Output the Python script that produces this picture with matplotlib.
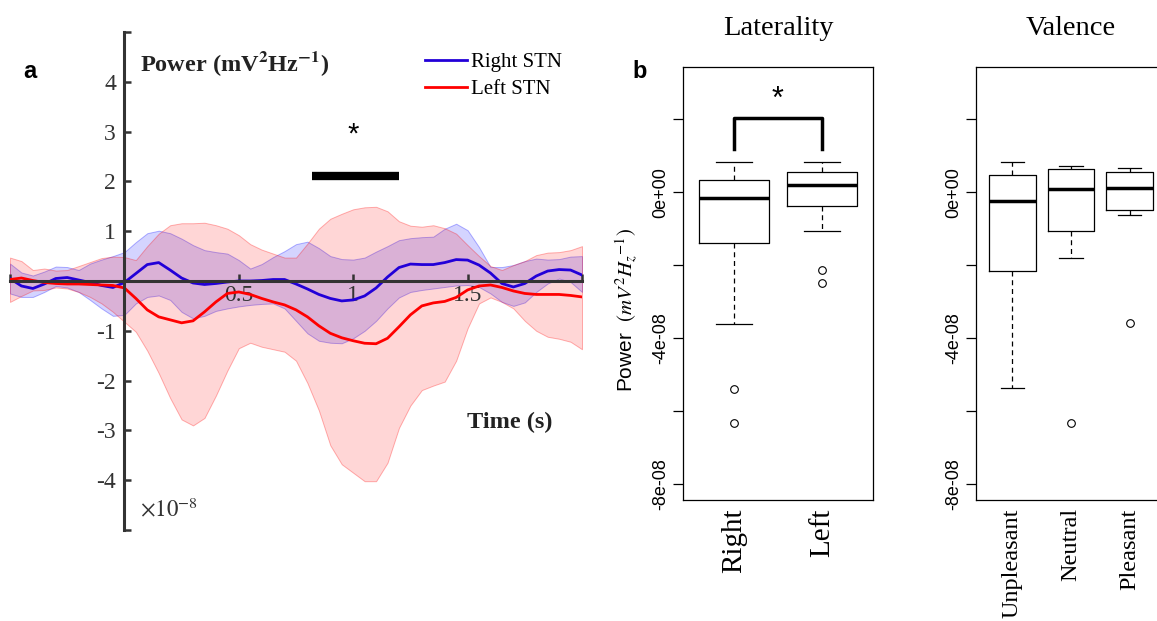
import numpy as np
import matplotlib.pyplot as plt

plt.rcParams['mathtext.fontset'] = 'stix'
SERIF = ['Liberation Serif', 'DejaVu Serif']
SANS = ['Liberation Sans', 'DejaVu Sans']

# ---- panel a: power time course (x 1e-8) ----
t = [-0.50, -0.45, -0.40, -0.35, -0.30, -0.25, -0.20, -0.15, -0.10, -0.05,
     0.00, 0.05, 0.10, 0.15, 0.20, 0.25, 0.30, 0.35, 0.40, 0.45,
     0.50, 0.55, 0.60, 0.65, 0.70, 0.75, 0.80, 0.85, 0.90, 0.95,
     1.00, 1.05, 1.10, 1.15, 1.20, 1.25, 1.30, 1.35, 1.40, 1.45,
     1.50, 1.55, 1.60, 1.65, 1.70, 1.75, 1.80, 1.85, 1.90, 1.95, 2.00]

right_mean = [0.05, -0.10, -0.15, -0.06, 0.05, 0.07, 0.02, -0.03, -0.09, -0.13,
              -0.03, 0.15, 0.33, 0.37, 0.22, 0.06, -0.04, -0.07, -0.05, -0.02,
              0.00, 0.00, 0.01, 0.03, 0.03, -0.06, -0.16, -0.27, -0.35, -0.40,
              -0.38, -0.30, -0.14, 0.08, 0.27, 0.34, 0.33, 0.33, 0.37, 0.43,
              0.42, 0.32, 0.16, -0.05, -0.12, -0.05, 0.10, 0.20, 0.23, 0.22, 0.12]
right_hi = [0.35, 0.17, 0.11, 0.19, 0.29, 0.28, 0.22, 0.35, 0.43, 0.50,
            0.58, 0.78, 0.96, 1.01, 0.96, 0.85, 0.72, 0.62, 0.58, 0.55,
            0.42, 0.25, 0.34, 0.48, 0.60, 0.74, 0.79, 0.66, 0.50, 0.44,
            0.43, 0.47, 0.59, 0.70, 0.82, 0.86, 0.88, 0.89, 1.05, 1.15,
            1.02, 0.68, 0.28, 0.28, 0.32, 0.40, 0.45, 0.43, 0.44, 0.49, 0.50]
right_lo = [-0.25, -0.32, -0.32, -0.22, -0.10, -0.13, -0.22, -0.38, -0.55, -0.70,
            -0.68, -0.45, -0.32, -0.29, -0.38, -0.62, -0.75, -0.70, -0.60, -0.55,
            -0.51, -0.48, -0.46, -0.45, -0.55, -0.80, -1.05, -1.20, -1.24, -1.25,
            -1.15, -1.00, -0.80, -0.55, -0.33, -0.22, -0.18, -0.15, -0.12, -0.09,
            -0.08, -0.12, -0.25, -0.42, -0.50, -0.43, -0.22, -0.05, 0.05, -0.02, -0.22]

left_mean = [0.03, 0.06, 0.01, -0.03, -0.05, -0.06, -0.06, -0.07, -0.08, -0.09,
             -0.14, -0.35, -0.58, -0.72, -0.78, -0.84, -0.80, -0.62, -0.42, -0.25,
             -0.22, -0.27, -0.35, -0.42, -0.48, -0.58, -0.72, -0.90, -1.05, -1.14,
             -1.20, -1.25, -1.26, -1.15, -0.92, -0.68, -0.50, -0.44, -0.41, -0.33,
             -0.18, -0.10, -0.08, -0.13, -0.20, -0.25, -0.27, -0.27, -0.27, -0.29, -0.32]
left_hi = [0.47, 0.40, 0.22, 0.25, 0.21, 0.22, 0.30, 0.38, 0.46, 0.49,
           0.48, 0.42, 0.70, 0.95, 1.12, 1.16, 1.16, 1.17, 1.12, 1.05,
           0.92, 0.74, 0.63, 0.55, 0.47, 0.47, 0.75, 1.05, 1.25, 1.35,
           1.44, 1.48, 1.49, 1.40, 1.20, 1.11, 1.09, 1.12, 1.06, 0.95,
           0.72, 0.50, 0.30, 0.22, 0.32, 0.40, 0.52, 0.57, 0.58, 0.62, 0.70]
left_lo = [-0.42, -0.30, -0.19, -0.18, -0.13, -0.15, -0.22, -0.32, -0.45, -0.62,
           -0.82, -1.02, -1.40, -1.85, -2.35, -2.78, -2.90, -2.75, -2.30, -1.80,
           -1.35, -1.24, -1.32, -1.37, -1.42, -1.60, -2.05, -2.60, -3.30, -3.68,
           -3.85, -4.02, -4.02, -3.65, -2.95, -2.50, -2.19, -2.10, -2.02, -1.60,
           -0.95, -0.45, -0.33, -0.42, -0.55, -0.80, -1.00, -1.12, -1.16, -1.22, -1.37]

sig_window = [0.82, 1.20]
yticks_a = [-5, -4, -3, -2, -1, 0, 1, 2, 3, 4, 5]

# ---- panel b: boxplot summaries ----
lat_names = ['Right', 'Left']
lat_med = [-0.15e-8, 0.21e-8]
lat_q1 = [-1.38e-8, -0.38e-8]
lat_q3 = [0.35e-8, 0.57e-8]
lat_lo = [-3.61e-8, -1.05e-8]
lat_hi = [0.82e-8, 0.83e-8]
lat_fliers = [[-5.40e-8, -6.34e-8], [-2.13e-8, -2.48e-8]]

val_names = ['Unpleasant', 'Neutral', 'Pleasant']
val_med = [-0.23e-8, 0.09e-8, 0.11e-8]
val_q1 = [-2.15e-8, -1.05e-8, -0.48e-8]
val_q3 = [0.49e-8, 0.63e-8, 0.57e-8]
val_lo = [-5.38e-8, -1.79e-8, -0.63e-8]
val_hi = [0.83e-8, 0.72e-8, 0.68e-8]
val_fliers = [[], [-6.32e-8], [-3.58e-8]]

b_ticks = [2e-8, 0, -2e-8, -4e-8, -6e-8, -8e-8]
b_labels = ['', '0e+00', '', '-4e-08', '', '-8e-08']

W, H = 1157, 621
fig = plt.figure(figsize=(W / 100, H / 100), dpi=100)

# ================= panel a =================
ax = fig.add_axes([10 / W, 1 - 530 / H, 572 / W, 498 / H])
ax.fill_between(t, right_lo, right_hi, facecolor=(0, 0, 1, 0.17),
                edgecolor=(0, 0, 1, 0.3), lw=0.7)
ax.fill_between(t, left_lo, left_hi, facecolor=(1, 0, 0, 0.16),
                edgecolor=(1, 0, 0, 0.3), lw=0.7)
ax.plot(t, right_mean, color='#2200d8', lw=2, label='Right STN')
ax.plot(t, left_mean, color='#ff0000', lw=2, label='Left STN')
ax.plot(sig_window, [2.1, 2.1], color='black', lw=6, solid_capstyle='butt')
ax.text(np.mean(sig_window) - 0.01, 2.95, '*', ha='center', va='center',
        fontsize=21, family=SANS)

ax.set_xlim(-0.5, 2.0)
ax.set_ylim(-5, 5)
for s in ['top', 'right']:
    ax.spines[s].set_visible(False)
ax.spines['left'].set_position(('data', 0))
ax.spines['bottom'].set_position(('data', 0))
for s in ['left', 'bottom']:
    ax.spines[s].set_color('#333333')
    ax.spines[s].set_linewidth(2.2)
    ax.spines[s].set_zorder(3)
ax.set_yticks(yticks_a)
ax.set_yticklabels(['' if v in (-5, 0, 5) else str(v) for v in yticks_a])
ax.set_xticks([-0.5, 0.5, 1, 1.5, 2])
ax.set_xticklabels(['', '0.5', '1', '1.5', ''])
ax.tick_params(direction='in', length=5, width=1.8, color='#333333',
               labelcolor='#333333', labelsize=17)
ax.tick_params(axis='x', pad=3)
ax.tick_params(axis='y', pad=6)
for lab in ax.get_xticklabels() + ax.get_yticklabels():
    lab.set_family(SERIF)

leg = ax.legend(loc='upper right', bbox_to_anchor=(0.98, 0.975), frameon=False,
                prop={'family': SERIF, 'size': 15}, handlelength=2.0,
                handletextpad=0.2, labelspacing=0.35, borderaxespad=0)

fig.text(140 / W, 1 - 64 / H, r'Power (mV$^{\mathbf{2}}$Hz$^{\mathbf{-1}}$)',
         family=SERIF, weight='bold', fontsize=17.5, color='#222222',
         ha='left', va='center')
fig.text(510 / W, 1 - 422 / H, 'Time (s)', family=SERIF, weight='bold',
         fontsize=17.5, color='#222222', ha='center', va='center')
fig.text(140 / W, 1 - 510 / H, r'$\times10^{-8}$', family=SERIF, fontsize=16.5,
         color='#333333', ha='left', va='center')
fig.text(30 / W, 1 - 72 / H, 'a', family=SANS, weight='bold', fontsize=17,
         ha='center', va='center')
fig.text(640 / W, 1 - 72 / H, 'b', family=SANS, weight='bold', fontsize=17,
         ha='center', va='center')


# ================= panel b =================
def box_panel(rect, names, med, q1, q3, lo, hi, fliers, title, lab_size):
    bx = fig.add_axes(rect)
    stats = []
    for i in range(len(names)):
        stats.append(dict(med=med[i], q1=q1[i], q3=q3[i], whislo=lo[i],
                          whishi=hi[i], fliers=fliers[i], label=names[i]))
    pos = list(range(1, len(names) + 1))
    bx.bxp(stats, positions=pos, widths=0.8, capwidths=0.4,
           boxprops=dict(color='black', linewidth=0.9),
           medianprops=dict(color='black', linewidth=2.5),
           whiskerprops=dict(color='black', linewidth=0.9, linestyle=(0, (4, 3))),
           capprops=dict(color='black', linewidth=0.9),
           flierprops=dict(marker='o', markerfacecolor='none',
                           markeredgecolor='black', markersize=5.5,
                           markeredgewidth=0.8))
    n = len(names)
    pad = 0.04 * n
    bx.set_xlim(0.5 - pad, n + 0.5 + pad)
    bx.set_ylim(-8e-8 - 0.44e-8, 3e-8 + 0.44e-8)
    bx.set_yticks(b_ticks)
    bx.set_yticklabels(b_labels)
    bx.tick_params(axis='y', length=7, width=0.9, labelsize=13, pad=3)
    for lab in bx.get_yticklabels():
        lab.set_rotation(90)
        lab.set_va('center')
        lab.set_family(SANS)
    bx.set_xticks(pos)
    bx.set_xticklabels(names, rotation=90, family=SERIF, fontsize=lab_size)
    bx.tick_params(axis='x', length=0, pad=6)
    for s in bx.spines.values():
        s.set_linewidth(0.9)
    bx.text(0.5, 1.09, title, transform=bx.transAxes, ha='center',
            va='center', family=SERIF, fontsize=20.5)
    return bx


lat = box_panel([683 / W, 1 - 500 / H, 190 / W, 433 / H], lat_names, lat_med,
                lat_q1, lat_q3, lat_lo, lat_hi, lat_fliers, 'Laterality', 21)
lat.plot([1, 1, 2, 2], [1.2e-8, 2.05e-8, 2.05e-8, 1.2e-8], color='black', lw=2.5)
lat.text(1.5, 2.55e-8, '*', ha='center', va='center', fontsize=22, family=SANS)

val = box_panel([976 / W, 1 - 500 / H, 190 / W, 433 / H], val_names, val_med,
                val_q1, val_q3, val_lo, val_hi, val_fliers, 'Valence', 17.5)

fig.text(627 / W, 1 - 310 / H, r'Power  $(mV^2H_z{}^{-1})$', rotation=90,
         family=SANS, fontsize=15, ha='center', va='center')

fig.savefig('out.png', dpi=100)
